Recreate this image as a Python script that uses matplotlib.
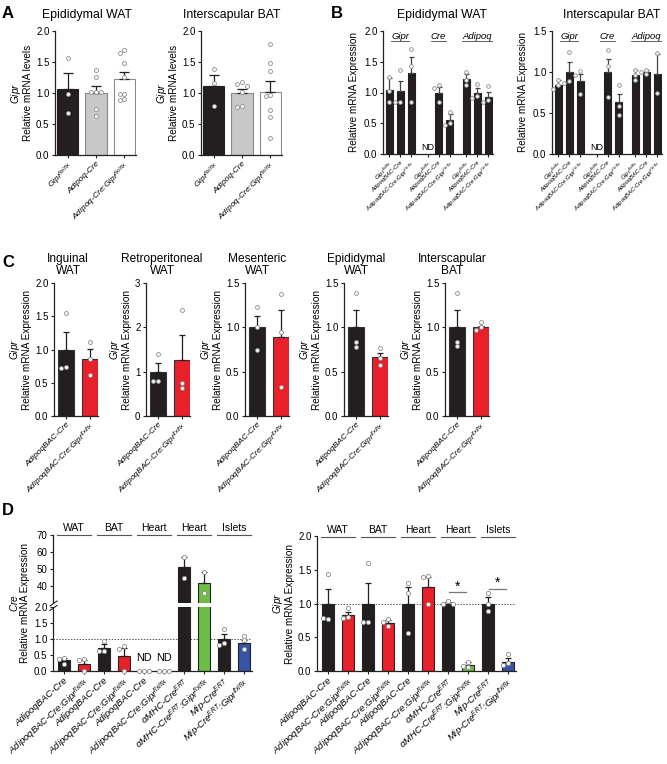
import matplotlib
import matplotlib.pyplot as plt
from matplotlib.lines import Line2D
from matplotlib.ticker import FormatStrFormatter

matplotlib.use("Agg")

plt.rcParams["font.family"] = ["Liberation Sans", "DejaVu Sans"]
plt.rcParams["mathtext.fontset"] = "custom"
plt.rcParams["mathtext.rm"] = "Liberation Sans"
plt.rcParams["mathtext.it"] = "Liberation Sans:italic"
plt.rcParams["mathtext.bf"] = "Liberation Sans:bold"
plt.rcParams["mathtext.sf"] = "Liberation Sans"

W, H = 667, 764

BLACK = "#231f20"
RED = "#e8202a"
GREEN = "#6cbd45"
BLUE = "#3753a4"
LIGHT = "#c8c8c8"
WHITE = "#ffffff"
GREY = "#8a8a8a"
PT_EDGE = "#8a8a8a"

FLX = "$^{flx/flx}$"
ERT = "$^{ERT}$"

# ---------------- panel A ----------------
A_LABELS = ["Gipr" + FLX, "Adipoq-Cre", "Adipoq-Cre:Gipr" + FLX]
A_COLORS = [BLACK, LIGHT, WHITE]
A_EDGES = [BLACK, GREY, GREY]
A_EWAT_MEAN = [1.07, 1.00, 1.22]
A_EWAT_SEM = [0.26, 0.11, 0.12]
A_EWAT_PTS = [[1.57, 0.98, 0.67],
              [1.37, 1.26, 1.02, 1.02, 1.02, 0.75, 0.63],
              [1.69, 1.64, 1.49, 1.26, 0.98, 0.98, 0.90, 0.88]]
A_BAT_MEAN = [1.11, 1.00, 1.02]
A_BAT_SEM = [0.18, 0.06, 0.18]
A_BAT_PTS = [[1.39, 1.16, 0.79],
             [1.17, 1.14, 1.11, 1.02, 0.79, 0.78],
             [1.79, 1.49, 1.36, 0.97, 0.95, 0.73, 0.62, 0.28]]

# ---------------- panel B ----------------
B_POS = [0, 1, 2, 3.5, 4.5, 5.5, 7, 8, 9]
B_LABELS = ["Gipr" + FLX, "AdipoqBAC-Cre", "AdipoqBAC-Cre:Gipr" + FLX] * 3
B_GENES = ["Gipr", "Cre", "Adipoq"]
B_GENE_POS = [1, 4.5, 8]
B_EWAT_MEAN = [1.04, 1.02, 1.31, None, 1.00, 0.56, 1.22, 1.00, 0.93]
B_EWAT_SEM = [0.20, 0.17, 0.26, None, 0.09, 0.09, 0.08, 0.07, 0.08]
B_EWAT_PTS = [[1.25, 1.03, 0.84], [1.37, 0.85, 0.85], [1.71, 1.43, 0.85], [],
              [1.12, 1.08, 0.84], [0.68, 0.50, 0.47],
              [1.34, 1.20, 1.12], [1.14, 0.94, 0.91], [1.11, 0.88, 0.85]]
B_BAT_MEAN = [0.84, 1.00, 0.89, None, 1.00, 0.63, 0.96, 1.00, 0.98]
B_BAT_SEM = [0.06, 0.12, 0.09, None, 0.16, 0.10, 0.06, 0.02, 0.24]
B_BAT_PTS = [[0.90, 0.84, 0.79], [1.25, 0.89, 0.86], [1.01, 0.96, 0.73], [],
             [1.27, 1.07, 0.70], [0.84, 0.58, 0.48],
             [1.02, 0.96, 0.90], [1.03, 1.00, 0.97], [1.23, 0.74]]

# ---------------- panel C ----------------
C_TITLES = ["Inguinal\nWAT", "Retroperitoneal\nWAT", "Mesenteric\nWAT",
            "Epididymal\nWAT", "Interscapular\nBAT"]
C_LABELS = ["AdipoqBAC-Cre", "AdipoqBAC-Cre:Gipr" + FLX]
C_YMAX = [2.0, 3, 1.5, 1.5, 1.5]
C_MEAN = [[1.00, 0.86], [1.00, 1.26], [1.00, 0.89], [1.00, 0.66], [1.00, 1.00]]
C_SEM = [[0.27, 0.15], [0.19, 0.57], [0.13, 0.31], [0.19, 0.05], [0.19, 0.02]]
C_PTS = [[[1.55, 0.74, 0.72], [1.12, 0.86, 0.62]],
         [[1.39, 0.80, 0.80], [2.40, 0.74, 0.64]],
         [[1.23, 1.00, 0.75], [1.38, 0.95, 0.33]],
         [[1.39, 0.83, 0.78], [0.77, 0.65, 0.58]],
         [[1.39, 0.84, 0.79], [1.06, 1.00, 0.97]]]

# ---------------- panel D ----------------
D_LABELS = ["AdipoqBAC-Cre", "AdipoqBAC-Cre:Gipr" + FLX] * 3 + [
    "αMHC-Cre" + ERT, "αMHC-Cre" + ERT + ":Gipr" + FLX,
    "Mip-Cre" + ERT, "Mip-Cre" + ERT + ":Gipr" + FLX]
D_COLORS = [BLACK, RED, BLACK, RED, BLACK, RED, BLACK, GREEN, BLACK, BLUE]
D_TISSUES = ["WAT", "BAT", "Heart", "Heart", "Islets"]
D_CRE_MEAN = [0.33, 0.23, 0.71, 0.47, None, None, 51.0, 41.8, 1.00, 0.87]
D_CRE_SEM = [0.07, 0.12, 0.13, 0.25, None, None, 6.0, 6.5, 0.15, 0.11]
D_CRE_PTS = [[0.42, 0.38, 0.22], [0.37, 0.33, 0.0], [0.95, 0.61, 0.62],
             [0.79, 0.70, 0.0], [0, 0, 0], [0, 0, 0], [57.2, 45.0],
             [48.3, 36.0], [1.31, 0.89, 0.82], [1.09, 0.96, 0.68]]
D_GIPR_MEAN = [1.00, 0.83, 1.00, 0.71, 1.00, 1.25, 1.00, 0.09, 1.00, 0.14]
D_GIPR_SEM = [0.22, 0.04, 0.30, 0.04, 0.25, 0.14, 0.02, 0.05, 0.09, 0.06]
D_GIPR_PTS = [[1.44, 0.77, 0.78], [0.93, 0.80, 0.79], [1.60, 0.72, 0.72],
              [0.77, 0.73, 0.66], [1.31, 1.16, 0.57], [1.41, 1.39, 0.99],
              [1.04, 1.00, 0.99], [0.14, 0.08, 0.06], [1.16, 0.99, 0.89],
              [0.25, 0.12, 0.09]]
D_SIG = [(6, 7, 1.17), (8, 9, 1.22)]


def add_ax(fig, left, top, right, bottom):
    return fig.add_axes([left / W, 1 - bottom / H, (right - left) / W, (bottom - top) / H])


def style_ax(ax):
    for side in ("top", "right"):
        ax.spines[side].set_visible(False)
    for side in ("left", "bottom"):
        ax.spines[side].set_linewidth(0.9)
        ax.spines[side].set_color("#222222")
    ax.tick_params(length=2.5, width=0.8, labelsize=7, pad=1.5, color="#222222")


def swarm(ax, x0, ys, d=4.6):
    pos = ax.get_position()
    x_lo, x_hi = ax.get_xlim()
    y_lo, y_hi = ax.get_ylim()
    sx = pos.width * W / (x_hi - x_lo)
    sy = pos.height * H / (y_hi - y_lo)
    placed, xs = [], []
    for y in ys:
        for k in (0, -1, 1, -2, 2, -3, 3):
            x = x0 + k * d / sx
            if all(((x - px) * sx) ** 2 + ((y - py) * sy) ** 2 >= (0.9 * d) ** 2
                   for px, py in placed):
                break
        placed.append((x, y))
        xs.append(x)
    return xs


def draw_bars(ax, pos, means, sems, pts, colors, edges, width, capsize,
              ecolor=BLACK, ms=8):
    y_lo, y_hi = ax.get_ylim()
    for x, m, e, p, c, ec in zip(pos, means, sems, pts, colors, edges):
        if m is not None:
            ax.bar(x, m, width=width, color=c, edgecolor=ec, linewidth=0.8, zorder=2)
            ax.errorbar([x], [m], yerr=[[0], [e]], fmt="none", ecolor=ecolor,
                        elinewidth=0.9, capsize=capsize, capthick=0.9, zorder=3)
        shown = [v for v in p if y_lo <= v <= y_hi]
        if shown:
            ax.scatter(swarm(ax, x, shown), shown, s=ms, facecolor="white",
                       edgecolor=PT_EDGE, linewidth=0.6, zorder=4, clip_on=False)


def set_xlabels(ax, pos, labels, size, rot=45):
    ax.set_xticks(pos)
    ax.set_xticklabels(labels, rotation=rot, ha="right", rotation_mode="anchor",
                       fontstyle="italic", fontsize=size)
    ax.tick_params(axis="x", length=2, pad=2)


fig = plt.figure(figsize=(W / 100, H / 100), dpi=100)
fig.patch.set_facecolor("white")

letter_kw = dict(fontsize=12, fontweight="bold", va="baseline", ha="left")
fig.text(2 / W, 1 - 18 / H, "A", **letter_kw)
fig.text(331 / W, 1 - 18 / H, "B", **letter_kw)
fig.text(2 / W, 1 - 267 / H, "C", **letter_kw)
fig.text(2 / W, 1 - 515 / H, "D", **letter_kw)

# ---- A ----
for (left, right, title, tx, means, sems, pts) in [
        (55, 136, "Epididymal WAT", 87, A_EWAT_MEAN, A_EWAT_SEM, A_EWAT_PTS),
        (201, 282, "Interscapular BAT", 232, A_BAT_MEAN, A_BAT_SEM, A_BAT_PTS)]:
    ax = add_ax(fig, left, 31, right, 155)
    style_ax(ax)
    ax.set_xlim(-0.45, 2.42)
    ax.set_ylim(0, 2.0)
    ax.set_yticks([0, 0.5, 1.0, 1.5, 2.0])
    ax.yaxis.set_major_formatter(FormatStrFormatter("%.1f"))
    draw_bars(ax, [0, 1, 2], means, sems, pts, A_COLORS, A_EDGES, 0.75, 3.4)
    set_xlabels(ax, [0, 1, 2], A_LABELS, 6.0)
    ax.set_ylabel("$Gipr$\nRelative mRNA levels", fontsize=7.2, linespacing=1.0,
                  labelpad=2)
    fig.text(tx / W, 1 - 18 / H, title, fontsize=8.8, ha="center", va="baseline")

# ---- B ----
for (left, title, tx, ymax, means, sems, pts) in [
        (383, "Epididymal WAT", 442, 2.0, B_EWAT_MEAN, B_EWAT_SEM, B_EWAT_PTS),
        (552, "Interscapular BAT", 612, 1.5, B_BAT_MEAN, B_BAT_SEM, B_BAT_PTS)]:
    ax = add_ax(fig, left, 31, left + 109.5, 154)
    style_ax(ax)
    ax.set_xlim(-0.55, 9.4)
    ax.set_ylim(0, ymax)
    ticks = [i * 0.5 for i in range(int(ymax / 0.5) + 1)]
    ax.set_yticks(ticks)
    ax.yaxis.set_major_formatter(FormatStrFormatter("%.1f"))
    draw_bars(ax, B_POS, means, sems, pts, [BLACK] * 9, [BLACK] * 9, 0.64, 1.8,
              ecolor="#444444", ms=7)
    set_xlabels(ax, B_POS, B_LABELS, 4.2)
    ax.set_ylabel("Relative mRNA Expression", fontsize=7.2, labelpad=4)
    ax.text(3.5, 0.02 * ymax, "ND", fontsize=6.5, ha="center", va="bottom")
    fig.text(tx / W, 1 - 18 / H, title, fontsize=8.8, ha="center", va="baseline")
    fig.canvas.draw()
    renderer = fig.canvas.get_renderer()
    inv = ax.transData.inverted()
    for gene, gx in zip(B_GENES, B_GENE_POS):
        t = ax.text(gx, 0.955, gene, transform=ax.get_xaxis_transform(),
                    fontsize=6.8, fontstyle="italic", ha="center", va="center")
        bb = t.get_window_extent(renderer)
        x0 = inv.transform((bb.x0, 0))[0]
        x1 = inv.transform((bb.x1, 0))[0]
        ax.plot([x0, x1], [0.915, 0.915], transform=ax.get_xaxis_transform(),
                color="#444444", lw=0.6, clip_on=False)

# ---- C ----
C_SPINES = [54, 146, 245, 344, 445]
C_TITLE_X = [68, 162, 257, 356, 452]
for i, s in enumerate(C_SPINES):
    ax = add_ax(fig, s, 283, s + 44, 416)
    style_ax(ax)
    ax.set_xlim(-0.5, 1.33)
    ax.set_ylim(0, C_YMAX[i])
    if C_YMAX[i] == 3:
        ax.set_yticks([0, 1, 2, 3])
    else:
        ax.set_yticks([j * 0.5 for j in range(int(C_YMAX[i] / 0.5) + 1)])
        ax.yaxis.set_major_formatter(FormatStrFormatter("%.1f"))
    draw_bars(ax, [0, 1], C_MEAN[i], C_SEM[i], C_PTS[i], [BLACK, RED],
              ["#333333", "#333333"], 0.63, 2.5)
    set_xlabels(ax, [0, 1], C_LABELS, 6.0)
    ax.set_ylabel("$Gipr$\nRelative mRNA Expression", fontsize=7.2, linespacing=1.0,
                  labelpad=2)
    fig.text(C_TITLE_X[i] / W, 1 - 265 / H, C_TITLES[i], fontsize=8.6,
             ha="center", va="center", linespacing=1.05)


def tissue_headers(ax, top_px):
    h = ax.get_position().height * H
    trans = ax.get_xaxis_transform()
    for k, name in enumerate(D_TISSUES):
        c = 2 * k + 0.5
        yl = 1 + (ax.get_position().y1 * H - (H - top_px)) / h
        ax.plot([c - 0.87, c + 0.87], [yl, yl], transform=trans, color="#555555",
                lw=0.8, clip_on=False)
        ax.text(c, yl + 2 / h, name, transform=trans, fontsize=7.5, ha="center",
                va="bottom")


D_POS = list(range(10))

# ---- D left (broken axis) ----
ax_up = add_ax(fig, 53, 535, 252, 603)
ax_lo = add_ax(fig, 53, 607, 252, 671)
for ax in (ax_up, ax_lo):
    style_ax(ax)
    ax.set_xlim(-0.55, 9.4)
ax_up.set_ylim(30, 70)
ax_up.set_yticks([40, 50, 60, 70])
ax_up.spines["bottom"].set_visible(False)
ax_up.tick_params(axis="x", bottom=False, labelbottom=False)
ax_lo.set_ylim(0, 2.0)
ax_lo.set_yticks([0, 0.5, 1.0, 1.5, 2.0])
ax_lo.yaxis.set_major_formatter(FormatStrFormatter("%.1f"))
ax_lo.axhline(1.0, color="#555555", lw=0.7, ls=(0, (1.5, 1.5)), zorder=1)
for ax in (ax_up, ax_lo):
    draw_bars(ax, D_POS, D_CRE_MEAN, D_CRE_SEM, D_CRE_PTS, D_COLORS,
              ["#222222"] * 10, 0.6, 2.2, ms=9)
set_xlabels(ax_lo, D_POS, D_LABELS, 6.8, rot=42)
for k in (4, 5):
    ax_lo.text(k, 0.4, "ND", fontsize=7.8, ha="center", va="center")
tissue_headers(ax_up, 535)
fig.text(19 / W, 1 - 603 / H, "$Cre$\nRelative mRNA Expression", fontsize=7.2,
         rotation=90, ha="center", va="center", linespacing=1.0,
         multialignment="center")
for y0 in (603.5, 608):
    fig.add_artist(Line2D([50 / W, 57 / W], [1 - (y0 + 2.5) / H, 1 - (y0 - 2.5) / H],
                          color="#222222", lw=0.8, transform=fig.transFigure))

# ---- D right ----
ax = add_ax(fig, 317, 536, 516, 671)
style_ax(ax)
ax.set_xlim(-0.55, 9.4)
ax.set_ylim(0, 2.0)
ax.set_yticks([0, 0.5, 1.0, 1.5, 2.0])
ax.yaxis.set_major_formatter(FormatStrFormatter("%.1f"))
ax.axhline(1.0, color="#555555", lw=0.7, ls=(0, (1.5, 1.5)), zorder=1)
draw_bars(ax, D_POS, D_GIPR_MEAN, D_GIPR_SEM, D_GIPR_PTS, D_COLORS,
          ["#222222"] * 10, 0.6, 2.2, ms=9)
set_xlabels(ax, D_POS, D_LABELS, 6.8, rot=42)
ax.set_ylabel("$Gipr$\nRelative mRNA Expression", fontsize=7.2, linespacing=1.0,
              labelpad=2)
for a, b, y in D_SIG:
    ax.plot([a + 0.05, b - 0.1], [y, y], color="#777777", lw=0.9, zorder=3)
    ax.text((a + b) / 2 - 0.02, y - 0.02, "*", fontsize=10, ha="center", va="bottom")
tissue_headers(ax, 535)

fig.savefig("out.png", dpi=100, facecolor="white")
